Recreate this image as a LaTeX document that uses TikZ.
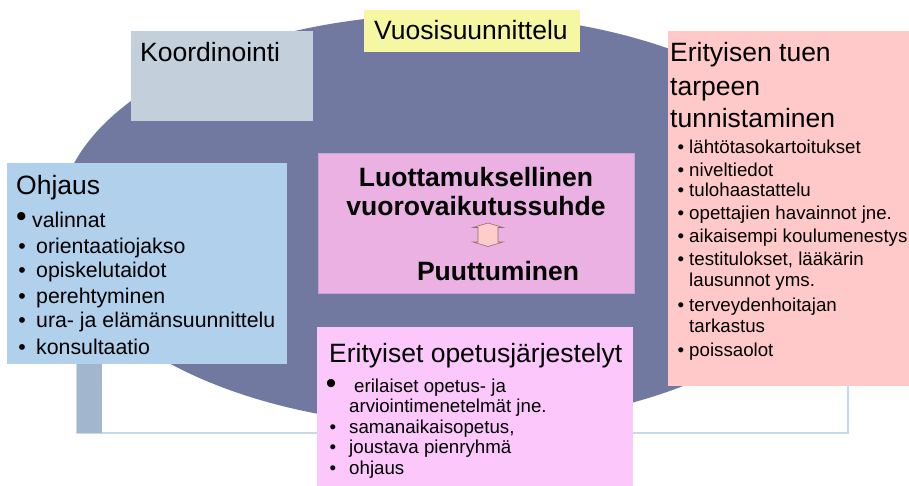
\documentclass[tikz,border=0pt]{standalone}
\usepackage{fontspec}
\setmainfont{Liberation Sans}

\definecolor{ellipsecol}{RGB}{113,121,160}
\definecolor{koordcol}{RGB}{195,208,219}
\definecolor{vuosicol}{RGB}{245,247,162}
\definecolor{tukicol}{RGB}{255,201,201}
\definecolor{ohjauscol}{RGB}{176,208,236}
\definecolor{suhdecol}{RGB}{235,177,227}
\definecolor{suhdeline}{RGB}{196,166,214}
\definecolor{jarjcol}{RGB}{252,200,252}
\definecolor{barcol}{RGB}{162,183,205}
\definecolor{framecol}{RGB}{200,216,230}
\definecolor{arrowcol}{RGB}{255,204,204}
\definecolor{arrowline}{RGB}{140,110,110}

\tikzset{
	title/.style = {anchor = base west, inner sep = 0pt, font = \fontsize{26.5}{32}\selectfont},
	biglabel/.style = {anchor = base, inner sep = 0pt, font = \fontsize{26.5}{32}\selectfont\bfseries},
	item/.style = {anchor = base west, inner sep = 0pt, font = \fontsize{18.7}{22}\selectfont},
	bigitem/.style = {item, font = \fontsize{21.3}{26}\selectfont},
	dot/.style = {anchor = base},
	bigdot/.style = {anchor = base, font = \fontsize{30}{30}\selectfont}
}

\begin{document}
\begin{tikzpicture}[x = 1pt, y = -1pt]

	% Canvas
	
	\useasboundingbox (0, 0) rectangle (909, 486);
	
	% Frame behind the ellipse
	
	\draw [framecol, line width = 1.5pt] (77, 300) rectangle (848, 433);
	\fill [barcol] (77, 300) rectangle (102, 433);
	
	% Ellipse
	
	\fill [ellipsecol] (451, 220) ellipse [x radius = 392, y radius = 206];
	
	% Boxes
	
	\fill [koordcol] (131, 31) rectangle (313, 121);
	\fill [vuosicol] (364, 10) rectangle (580, 52);
	\fill [tukicol] (668, 31) rectangle (909, 386);
	\fill [ohjauscol] (7, 163) rectangle (287, 364);
	\filldraw [fill = suhdecol, draw = suhdeline, line width = 0.8pt] (318, 153) rectangle (634, 293);
	\fill [jarjcol] (317, 327) rectangle (633, 486);
	
	% Titles
	
	\node [title] (koord) at (140, 62) {Koordinointi};
	\node [title] (vuosi) at (374, 40) {Vuosisuunnittelu};
	\node [title] (ohjaus) at (16, 195) {Ohjaus};
	\node [title] (jarj) at (329, 362) {Erityiset opetusjärjestelyt};
	
	\foreach \y/\s [count = \i] in {62/Erityisen tuen, 96/tarpeen, 128/tunnistaminen}
		\node [title] (tuki\i) at (670, \y) {\s};
	
	% Central box
	
	\node [biglabel] (luotto) at (476, 187) {Luottamuksellinen};
	\node [biglabel] (vuoro) at (476, 216) {vuorovaikutussuhde};
	\node [biglabel] (puutt) at (498, 280) {Puuttuminen};
	
	\filldraw [fill = arrowcol, draw = arrowline, line width = 0.6pt]
		(488, 223) -- (503, 227.5) -- (498, 227.5) -- (498, 242) -- (503, 242)
		-- (488, 246.5) -- (473, 242) -- (478, 242) -- (478, 227.5) -- (473, 227.5) -- cycle;
	
	% Ohjaus list
	
	\node [bigitem, bigdot] (ohjausdot1) at (21.5, 226) {•};
	\node [bigitem] (ohjaus1) at (32, 227) {valinnat};
	
	\foreach \y/\s [count = \i from 2] in {253/orientaatiojakso, 277/opiskelutaidot, 303/perehtyminen, 327/ura- ja elämänsuunnittelu, 354/konsultaatio}
	{
		\node [bigitem, dot] (ohjausdot\i) at (22, \y) {•};
		\node [bigitem] (ohjaus\i) at (36, \y) {\s};
	}
	
	% Tunnistaminen list
	
	\foreach \y/\s [count = \i] in {154/lähtötasokartoitukset, 177/niveltiedot, 197/tulohaastattelu, 220/opettajien havainnot jne., 243/aikaisempi koulumenestys, 265/{testitulokset, lääkärin}, 286/lausunnot yms., 311/terveydenhoitajan, 332/tarkastus, 356/poissaolot}
		\node [item] (tieto\i) at (689, \y) {\s};
	
	\foreach \y in {154, 177, 197, 220, 243, 265, 311, 356}
		\node [item, dot] (tietodot\y) at (681, \y) {•};
	
	% Opetusjarjestelyt list
	
	\node [item, bigdot] (jarjdot1) at (331, 393) {•};
	\node [item] (jarj1) at (354, 392) {erilaiset opetus- ja};
	\node [item] (jarj2) at (349, 412) {arviointimenetelmät jne.};
	
	\foreach \y/\s [count = \i from 3] in {433/{samanaikaisopetus,}, 453/joustava pienryhmä, 474/ohjaus}
	{
		\node [item, dot] (jarjdot\i) at (333, \y) {•};
		\node [item] (jarj\i) at (349, \y) {\s};
	}

\end{tikzpicture}
\end{document}
